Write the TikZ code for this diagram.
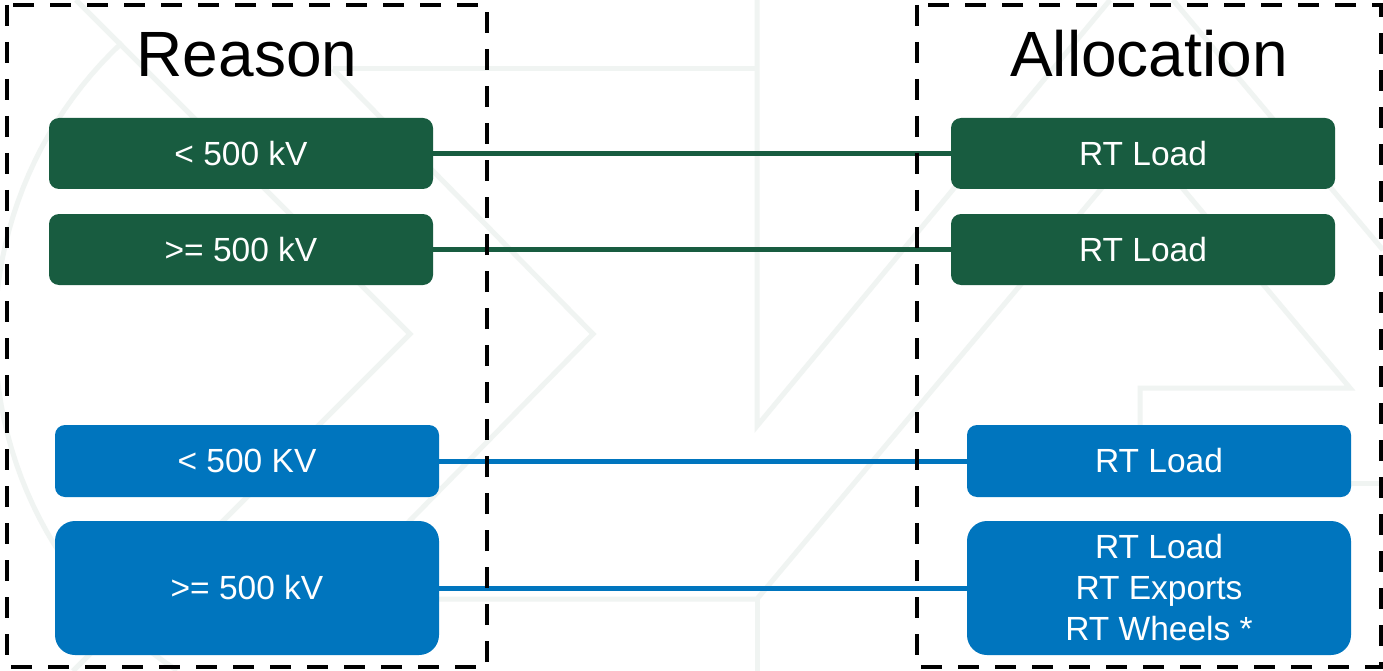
\documentclass[tikz,border=0pt]{standalone}
\usepackage{fontspec}
\setmainfont{Liberation Sans}
\definecolor{dgreen}{HTML}{185C40}
\definecolor{mblue}{HTML}{0075BE}
\definecolor{wmcol}{HTML}{F0F4F2}
\pgfdeclarelayer{bg}
\pgfsetlayers{bg,main}
\begin{document}
\begin{tikzpicture}[x=1pt,y=-1pt,
  box/.style={rounded corners=10pt, minimum width=384pt, inner sep=0pt, text=white,
              font=\fontsize{33.5}{41}\selectfont, align=center},
  gbox/.style={box, fill=dgreen, minimum height=71pt},
  bbox/.style={box, fill=mblue, minimum height=72pt},
  tallbox/.style={box, fill=mblue, minimum height=134pt, rounded corners=20pt},
  frame/.style={draw=black, line width=4.3pt, dash pattern=on 21pt off 16pt},
  gline/.style={draw=dgreen, line width=5pt},
  bline/.style={draw=mblue, line width=5pt},
  title/.style={anchor=base, font=\fontsize{64}{70}\selectfont},
  wmline/.style={draw=wmcol, line width=5pt, line join=miter}
]
\useasboundingbox (0,0) rectangle (1383,671);

% nodes
\node[gbox] (g1L) at (241,153.5) {< 500 kV};
\node[gbox] (g2L) at (241,249.5) {>= 500 kV};
\node[gbox] (g1R) at (1143,153.5) {RT Load};
\node[gbox] (g2R) at (1143,249.5) {RT Load};
\node[bbox] (b1L) at (247,461) {< 500 KV};
\node[tallbox] (b2L) at (247,588) {>= 500 kV};
\node[bbox] (b1R) at (1159,461) {RT Load};
\node[tallbox] (b2R) at (1159,588) {RT Load\\RT Exports\\RT Wheels *};

% titles
\node[title] (reason) at (247,77) {Reason};
\node[title] (alloc) at (1149,77) {Allocation};

\begin{pgfonlayer}{bg}
\fill[white] (0,0) rectangle (1383,671);
% faint background watermark
\begin{scope}[wmline]
  \draw (76,0) -- (410,334) -- (73,671);
  \draw (333,69) -- (593,334) -- (333,599);
  \draw (333,69) -- (757,69);
  \draw (757,0) -- (757,426) -- (1110,0);
  \draw (333,599) -- (757,599) -- (1142,140) -- (1350,388) -- (1140,388) -- (1140,440);
  \draw (757,599) -- (757,671);
  \draw (1173,0) -- (1383,250);
  \draw (1340,483) -- (1383,483);
  \draw plot[domain=123:227, samples=50] ({395+400*cos(\x)},{335+400*sin(\x)});
\end{scope}

% connectors
\draw[gline] (g1L.east) -- (g1R.west);
\draw[gline] (g2L.east) -- (g2R.west);
\draw[bline] (b1L.east) -- (b1R.west);
\draw[bline] (b2L.east) -- (b2R.west);

% dashed frames
\draw[frame] (7,5) rectangle (487,667);
\draw[frame] (917,5) rectangle (1381,667);
\end{pgfonlayer}
\end{tikzpicture}
\end{document}
